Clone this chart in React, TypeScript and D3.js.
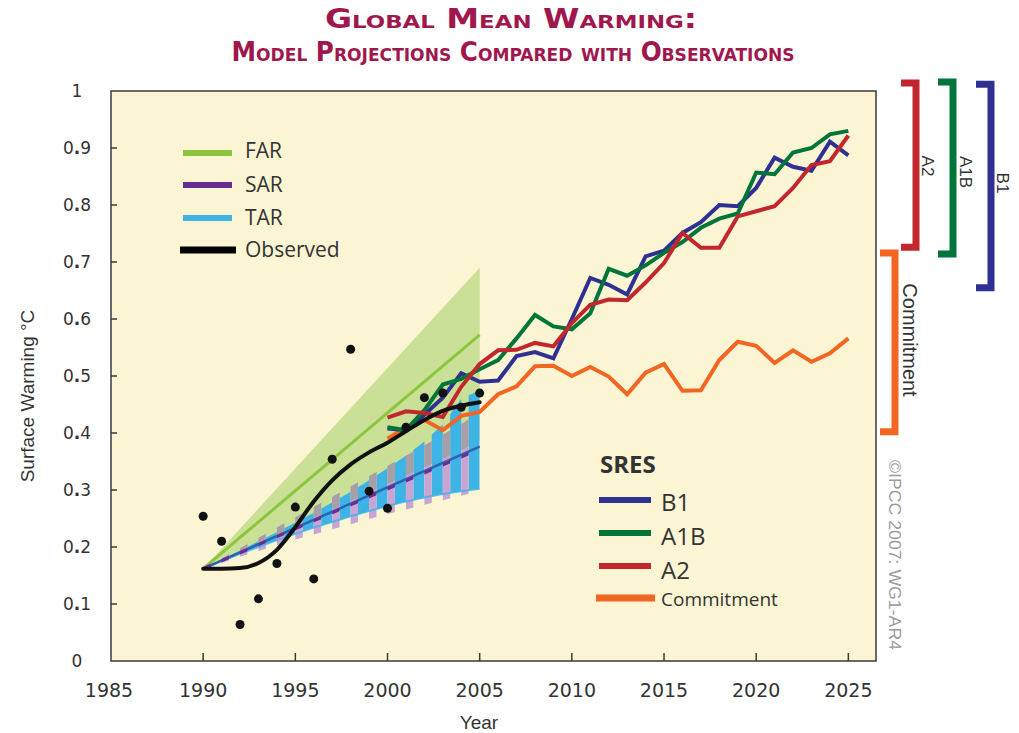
import * as d3 from "d3";

// observed annual anomalies and smoothed curve, 1990-2005
const obsYears = d3.range(1990, 2006);
const obsDots = [0.254, 0.21, 0.064, 0.109, 0.171, 0.27, 0.144, 0.354, 0.547, 0.298, 0.268, 0.41, 0.462, 0.47, 0.445, 0.47];
const obsSmooth = [0.162, 0.162, 0.163, 0.172, 0.195, 0.235, 0.28, 0.317, 0.345, 0.366, 0.383, 0.403, 0.423, 0.439, 0.448, 0.454];

// FAR / SAR / TAR projections 1990-2005
const bandYears = [1990, 2005];
const farMid = [0.162, 0.572];
const farLow = [0.162, 0.385];
const farHigh = [0.162, 0.69];
const sarMid = [0.162, 0.372];
const tarMid = [0.162, 0.376];
const sarHigh = [0.162, 0.18, 0.198, 0.216, 0.234, 0.252, 0.27, 0.288, 0.306, 0.324, 0.342, 0.36, 0.378, 0.397, 0.416, 0.435];
const sarLow = [0.162, 0.172, 0.183, 0.193, 0.203, 0.213, 0.222, 0.231, 0.24, 0.249, 0.258, 0.266, 0.274, 0.282, 0.29, 0.298];
const tarHigh = [0.162, 0.178, 0.194, 0.21, 0.226, 0.243, 0.26, 0.278, 0.297, 0.317, 0.338, 0.36, 0.385, 0.415, 0.46, 0.475];
const tarLow = [0.162, 0.175, 0.188, 0.2, 0.212, 0.223, 0.234, 0.244, 0.254, 0.263, 0.272, 0.28, 0.287, 0.293, 0.298, 0.302];

// SRES scenarios 2000-2025
const sresYears = d3.range(2000, 2026);
const b1 = [0.408, 0.405, 0.432, 0.462, 0.505, 0.49, 0.492, 0.535, 0.542, 0.531, 0.6, 0.672, 0.66, 0.643, 0.71, 0.72, 0.751, 0.77, 0.8, 0.798, 0.83, 0.883, 0.867, 0.86, 0.911, 0.887];
const a1b = [0.41, 0.405, 0.44, 0.485, 0.495, 0.512, 0.528, 0.566, 0.607, 0.587, 0.582, 0.61, 0.688, 0.676, 0.694, 0.716, 0.735, 0.76, 0.776, 0.785, 0.857, 0.854, 0.892, 0.9, 0.924, 0.93];
const a2 = [0.427, 0.438, 0.435, 0.428, 0.481, 0.521, 0.545, 0.546, 0.558, 0.552, 0.593, 0.625, 0.634, 0.633, 0.664, 0.698, 0.751, 0.725, 0.725, 0.78, 0.789, 0.798, 0.83, 0.87, 0.877, 0.922];
const commitment = [0.39, 0.41, 0.423, 0.405, 0.43, 0.437, 0.468, 0.482, 0.517, 0.518, 0.5, 0.516, 0.499, 0.468, 0.506, 0.521, 0.474, 0.475, 0.528, 0.56, 0.553, 0.523, 0.545, 0.525, 0.54, 0.566];

// ranges shown as brackets on the right
const bracketNames = ["Commitment", "A2", "A1B", "B1"];
const bracketLow = [0.402, 0.726, 0.714, 0.655];
const bracketHigh = [0.716, 1.014, 1.016, 1.012];

const xTicks = [1985, 1990, 1995, 2000, 2005, 2010, 2015, 2020, 2025];
const yTicks = [0, 0.1, 0.2, 0.3, 0.4, 0.5, 0.6, 0.7, 0.8, 0.9, 1];

const C = {
  far: "#8cc63f",
  farBand: "#c9e096",
  sar: "#6a2c91",
  sarBand: "#c9a5d3",
  sarOnFar: "#a6a0a6",
  tar: "#3db3e6",
  tarLine: "#2e62ad",
  b1: "#2e3192",
  a1b: "#00753a",
  a2: "#c1272d",
  commit: "#f26522",
  bg: "#fcf5d4",
  text: "#333",
  title: "#a0174e",
};

const W = 1019;
const H = 733;
const plot = { left: 111, right: 876, top: 91, bottom: 661 };

const x = d3.scaleLinear().domain([1985, 2026.5]).range([plot.left, plot.right]);
const y = d3.scaleLinear().domain([0, 1]).range([plot.bottom, plot.top]);

const lineOf = (xs: number[], ys: number[], curve = d3.curveLinear) =>
  d3.line<number>().x((_, i) => x(xs[i])).y((d) => y(d)).curve(curve)(ys) || "";

const areaOf = (xs: number[], lo: number[], hi: number[]) =>
  d3
    .area<number>()
    .x((_, i) => x(xs[i]))
    .y0((_, i) => y(lo[i]))
    .y1((d) => y(d))(hi) || "";

const sans = "'Open Sans', 'Noto Sans', sans-serif";
const arial = "'Liberation Sans', Arial, sans-serif";

export default function App() {
  const stripeYears = d3.range(1990, 2005);
  const farPath = areaOf(bandYears, farLow, farHigh);
  const sarPath = areaOf(obsYears, sarLow, sarHigh);
  const tarPath = areaOf(obsYears, tarLow, tarHigh);

  const bracketColors = [C.commit, C.a2, C.a1b, C.b1];
  const bracketBarX = [895, 916, 953, 991];
  const bracketLabelX = [903, 922, 960, 997];
  const bracketLabelY = [340, 166, 172, 183];
  const bracketLabelSize = [20, 17, 17, 17];

  const sres = [
    { name: "Commitment", vals: commitment, color: C.commit },
    { name: "B1", vals: b1, color: C.b1 },
    { name: "A1B", vals: a1b, color: C.a1b },
    { name: "A2", vals: a2, color: C.a2 },
  ];

  const legendTop = [
    { name: "FAR", color: C.far, ly: 153, ty: 158 },
    { name: "SAR", color: C.sar, ly: 185, ty: 192 },
    { name: "TAR", color: C.tar, ly: 218, ty: 225 },
    { name: "Observed", color: "#000", ly: 250, ty: 257 },
  ];

  const legendSres = [
    { name: "B1", color: C.b1, ly: 500, ty: 511, size: 24 },
    { name: "A1B", color: C.a1b, ly: 533, ty: 545, size: 24 },
    { name: "A2", color: C.a2, ly: 566, ty: 579, size: 24 },
    { name: "Commitment", color: C.commit, ly: 598, ty: 606, size: 19 },
  ];

  return (
    <svg width={W} height={H} style={{ position: "absolute", left: 0, top: 0, background: "#fff" }}>
      <defs>
        <clipPath id="plotClip">
          <rect x={plot.left} y={plot.top} width={plot.right - plot.left} height={plot.bottom - plot.top} />
        </clipPath>
        <clipPath id="lavStripes">
          {stripeYears.map((yr) => (
            <rect key={yr} x={x(yr)} y={plot.top} width={x(yr + 0.4) - x(yr)} height={plot.bottom - plot.top} />
          ))}
        </clipPath>
        <clipPath id="cyanStripes">
          {stripeYears.map((yr) => (
            <rect key={yr} x={x(yr + 0.4)} y={plot.top} width={x(yr + 1) - x(yr + 0.4)} height={plot.bottom - plot.top} />
          ))}
        </clipPath>
        <clipPath id="farClip">
          <path d={farPath} />
        </clipPath>
      </defs>

      {/* title */}
      <g fill={C.title} fontFamily="'DejaVu Sans Condensed', 'DejaVu Sans', sans-serif" fontWeight="bold" fontSize={26} textAnchor="middle" style={{ fontVariant: "small-caps" }}>
        <text x={511} y={28} textLength={372} lengthAdjust="spacingAndGlyphs">Global Mean Warming:</text>
        <text x={513} y={61} textLength={563} lengthAdjust="spacingAndGlyphs">Model Projections Compared with Observations</text>
      </g>

      {/* plot background */}
      <rect x={plot.left} y={plot.top} width={plot.right - plot.left} height={plot.bottom - plot.top} fill={C.bg} />

      <g clipPath="url(#plotClip)">
        {/* FAR band */}
        <path d={farPath} fill={C.farBand} />
        {/* TAR band in cyan stripes */}
        <g clipPath="url(#cyanStripes)">
          <path d={tarPath} fill={C.tar} />
        </g>
        {/* SAR band in lavender stripes, grey where it overlaps FAR */}
        <g clipPath="url(#lavStripes)">
          <path d={sarPath} fill={C.sarBand} />
          <g clipPath="url(#farClip)">
            <path d={sarPath} fill={C.sarOnFar} />
          </g>
        </g>
        {/* thin cyan fringe along TAR lower edge */}
        <path d={lineOf(obsYears, tarLow)} fill="none" stroke={C.tar} strokeWidth={2} opacity={0.8} />

        {/* central lines */}
        <path d={lineOf(bandYears, farMid)} fill="none" stroke={C.far} strokeWidth={3} />
        <path d={lineOf(bandYears, tarMid)} fill="none" stroke={C.tarLine} strokeWidth={2.5} />
        <g clipPath="url(#lavStripes)">
          <path d={lineOf(bandYears, sarMid)} fill="none" stroke={C.sar} strokeWidth={3} />
        </g>

        {/* SRES scenarios */}
        {sres.map((s) => (
          <path key={s.name} d={lineOf(sresYears, s.vals)} fill="none" stroke={s.color} strokeWidth={4} strokeLinejoin="miter" />
        ))}

        {/* observed */}
        <path d={lineOf(obsYears, obsSmooth, d3.curveMonotoneX)} fill="none" stroke="#111" strokeWidth={4} strokeLinecap="round" />
        {obsDots.map((v, i) => (
          <circle key={i} cx={x(obsYears[i])} cy={y(v)} r={4.5} fill="#111" />
        ))}
      </g>

      {/* frame & ticks */}
      <rect x={plot.left} y={plot.top} width={plot.right - plot.left} height={plot.bottom - plot.top} fill="none" stroke="#3a3a3a" strokeWidth={1.5} />
      <g stroke="#3a3a3a" strokeWidth={1.5}>
        {yTicks.slice(1, -1).map((t) => (
          <line key={t} x1={plot.left} x2={plot.left + 6} y1={y(t)} y2={y(t)} />
        ))}
        {xTicks.slice(1).map((t) => (
          <line key={t} x1={x(t)} x2={x(t)} y1={plot.bottom} y2={plot.bottom - 8} />
        ))}
      </g>
      <g fill={C.text} fontFamily="'DejaVu Sans', Verdana, sans-serif" fontSize={17} textAnchor="middle">
        {yTicks.map((t) => {
          const s = t === 0 ? "0" : t === 1 ? "1" : d3.format(".1f")(t);
          const parts = s.split(".");
          return (
            <text key={t} x={77} y={y(t) + 6}>
              {parts[0]}
              {parts.length > 1 && <tspan fontWeight="bold">.</tspan>}
              {parts.length > 1 && parts[1]}
            </text>
          );
        })}
      </g>
      <g fill={C.text} fontFamily="'DejaVu Sans', Verdana, sans-serif" fontSize={19} textAnchor="middle">
        {xTicks.map((t) => (
          <text key={t} x={x(t) - (t === 1985 ? 2 : 0)} y={697}>
            {t}
          </text>
        ))}
      </g>
      <text x={479} y={729} textAnchor="middle" fontFamily={arial} fontSize={19} fill={C.text}>
        Year
      </text>
      <text transform="translate(34,396) rotate(-90)" textAnchor="middle" fontFamily={arial} fontSize={19} fill={C.text}>
        Surface Warming °C
      </text>

      {/* top-left legend */}
      {legendTop.map((l) => (
        <g key={l.name}>
          <line x1={l.name === "Observed" ? 180 : 183} x2={l.name === "Observed" ? 236 : 232} y1={l.ly} y2={l.ly} stroke={l.color} strokeWidth={l.name === "Observed" ? 7 : 6} />
          <text x={245} y={l.ty} fontFamily={sans} fontSize={21} fill={C.text}>
            {l.name}
          </text>
        </g>
      ))}

      {/* SRES legend */}
      <text x={600} y={473} fontFamily={sans} fontWeight="bold" fontSize={24} fill={C.text}>
        SRES
      </text>
      {legendSres.map((l) => (
        <g key={l.name}>
          <line x1={l.name === "Commitment" ? 596 : 599} x2={l.name === "Commitment" ? 655 : 651} y1={l.ly} y2={l.ly} stroke={l.color} strokeWidth={l.name === "Commitment" ? 7 : 6} />
          <text x={661} y={l.ty} fontFamily={sans} fontSize={l.size} fill={C.text}>
            {l.name}
          </text>
        </g>
      ))}

      {/* range brackets */}
      {bracketNames.map((n, i) => {
        const bx = bracketBarX[i];
        const y0 = y(bracketHigh[i]);
        const y1 = y(bracketLow[i]);
        return (
          <g key={n}>
            <path d={`M${bx - 15},${y0} H${bx} V${y1} H${bx - 15}`} fill="none" stroke={bracketColors[i]} strokeWidth={7} />
            <text transform={`translate(${bracketLabelX[i]},${bracketLabelY[i]}) rotate(90)`} textAnchor="middle" fontFamily={arial} fontSize={bracketLabelSize[i]} fill={C.text}>
              {n}
            </text>
          </g>
        );
      })}

      {/* credit */}
      <text transform="translate(889,555) rotate(90)" textAnchor="middle" fontFamily={arial} fontSize={16} fill="#9a9a9a" textLength={190} lengthAdjust="spacingAndGlyphs">
        ©IPCC  2007: WG1-AR4
      </text>
    </svg>
  );
}
